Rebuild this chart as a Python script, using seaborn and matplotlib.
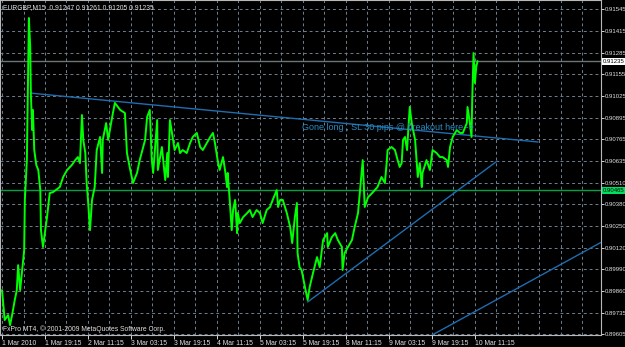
import numpy as np
import pandas as pd
import seaborn as sns
import matplotlib
matplotlib.use("Agg")
import matplotlib.pyplot as plt
import matplotlib.transforms as mtransforms
from matplotlib import font_manager

# ---------------- data ----------------
bars = [0, 4, 9, 12, 15, 19, 22, 24, 27, 30, 33, 34, 37, 40, 42, 43, 45, 46, 48, 51,
        54, 57, 58, 61, 67, 71, 76, 86, 91, 97, 104, 109, 113, 116, 119, 121, 124, 126,
        128, 131, 134, 138, 141, 146, 149, 150, 155, 158, 164, 168, 176, 183, 186, 190,
        195, 201, 205, 213, 216, 220, 223, 225, 231, 232, 238, 243, 246, 247, 250, 253,
        257, 262, 265, 269, 275, 280, 284, 290, 295, 299, 305, 310, 314, 317, 321, 324,
        329, 332, 335, 336, 339, 342, 344, 347, 350, 351, 354, 359, 365, 369, 373, 379,
        384, 388, 394, 399, 403, 409, 411, 414, 418, 424, 429, 432, 436, 439, 440, 443,
        446, 448, 451, 454, 455, 458, 463, 469, 473, 478, 484, 485, 491, 496, 500, 506,
        507, 510, 515, 521, 525, 530, 536, 537, 540, 545, 551, 555, 559, 565, 570, 573,
        574, 580, 585, 589, 592, 595, 597, 600, 603, 607, 610, 615, 618, 619, 622, 625,
        626, 632, 637, 641, 647, 652, 656, 662, 664, 667, 671, 677, 682, 686, 692, 693,
        696, 699, 700, 702, 704, 706, 708]
close = [0.89869, 0.89690, 0.89720, 0.89660, 0.89720, 0.89810, 0.89869, 0.90018, 0.89869,
         0.89989, 0.90108, 0.90407, 0.90645, 0.91493, 0.91320, 0.91033, 0.90824, 0.90944,
         0.90705, 0.90616, 0.90586, 0.90466, 0.90227, 0.90126, 0.90305, 0.90448, 0.90454,
         0.90484, 0.90544, 0.90586, 0.90616, 0.90645, 0.90663, 0.90627, 0.90914, 0.90765,
         0.90687, 0.90508, 0.90407, 0.90227, 0.90407, 0.90484, 0.90705, 0.90783, 0.90568,
         0.90765, 0.90866, 0.90765, 0.90902, 0.90986, 0.90944, 0.90926, 0.90687, 0.90604,
         0.90508, 0.90568, 0.90645, 0.90765, 0.90902, 0.90944, 0.90645, 0.90568, 0.90884,
         0.90586, 0.90723, 0.90526, 0.90687, 0.90544, 0.90884, 0.90807, 0.90705, 0.90747,
         0.90687, 0.90705, 0.90687, 0.90747, 0.90783, 0.90807, 0.90723, 0.90705, 0.90747,
         0.90783, 0.90807, 0.90747, 0.90645, 0.90586, 0.90663, 0.90586, 0.90484, 0.90568,
         0.90407, 0.90227, 0.90347, 0.90407, 0.90209, 0.90329, 0.90269, 0.90305, 0.90329,
         0.90347, 0.90305, 0.90347, 0.90329, 0.90269, 0.90347, 0.90365, 0.90407, 0.90466,
         0.90365, 0.90407, 0.90407, 0.90329, 0.90245, 0.90150, 0.90305, 0.90389, 0.90090,
         0.90006, 0.89989, 0.89947, 0.89887, 0.89827, 0.89810, 0.89887, 0.89971, 0.90066,
         0.90006, 0.90168, 0.90209, 0.90126, 0.90185, 0.90209, 0.90168, 0.90126, 0.89989,
         0.90090, 0.90126, 0.90168, 0.90245, 0.90329, 0.90604, 0.90645, 0.90365, 0.90424,
         0.90448, 0.90466, 0.90484, 0.90544, 0.90508, 0.90645, 0.90705, 0.90723, 0.90705,
         0.90645, 0.90604, 0.90627, 0.90765, 0.90783, 0.90705, 0.90962, 0.90866, 0.90765,
         0.90604, 0.90544, 0.90627, 0.90484, 0.90568, 0.90645, 0.90586, 0.90705, 0.90687,
         0.90663, 0.90663, 0.90645, 0.90604, 0.90723, 0.90783, 0.90824, 0.90807, 0.90807,
         0.90866, 0.90962, 0.90884, 0.90783, 0.91004, 0.91284, 0.91105, 0.91201, 0.91236]

x_tick_bars = [0, 64, 128, 192, 256, 320, 384, 448, 512, 576, 640, 704]
x_tick_labels = ["1 Mar 2010", "1 Mar 19:15", "2 Mar 11:15", "3 Mar 03:15", "3 Mar 19:15",
                 "4 Mar 11:15", "5 Mar 03:15", "5 Mar 19:15", "8 Mar 11:15", "9 Mar 03:15",
                 "9 Mar 19:15", "10 Mar 11:15"]
y_tick_labels = ["0.89605", "0.89735", "0.89860", "0.89990", "0.90120", "0.90250", "0.90380",
                 "0.90510", "0.90635", "0.90765", "0.90895", "0.91025", "0.91155", "0.91285",
                 "0.91415", "0.91545"]

bid_price = 0.91235
hline_price = 0.90465

# trend lines (start bar, end bar), (start price, end price)
trend_upper_x, trend_upper_y = [42, 798], [0.91045, 0.90753]
trend_low1_x, trend_low1_y = [455, 737], [0.89798, 0.90639]
trend_low2_x, trend_low2_y = [640, 900], [0.89600, 0.90172]

note_bar, note_price = 446, 0.90842
note_text = "Gone long , SL 30 pips @ breakout here ->"
title_text = "EURGBP,M15  0.91247 0.91261 0.91205 0.91235"
copyright_text = "FxPro MT4, \u00a9 2001-2009 MetaQuotes Software Corp."

# ---------------- style ----------------
sns.set_theme(style="dark")
plt.rcParams["font.family"] = ["Liberation Sans", "DejaVu Sans"]

names = {f.name for f in font_manager.fontManager.ttflist}
narrow = "Liberation Sans Narrow" if "Liberation Sans Narrow" in names else "Liberation Sans"
ylab_size = 4.7 if narrow == "Liberation Sans Narrow" else 4.3

W, H = 625, 347
fig = plt.figure(figsize=(W / 100, H / 100), dpi=100, facecolor="black")
ax = fig.add_axes([0.0 / W, (H - 335) / H, 600.5 / W, 335 / H])
ax.set_facecolor("black")

x_min, x_max = -3, 891
y_min, y_max = 0.89601, 0.916005
ax.set_xlim(x_min, x_max)
ax.set_ylim(y_min, y_max)

grid_col = "#6f7f8f"
ytick_pos = np.linspace(0.89605, 0.91545, len(y_tick_labels))
for yp in ytick_pos:
    ax.axhline(yp, color=grid_col, lw=0.7, ls=(0, (3, 3)), zorder=1)
for xb in range(0, 880, 32):
    ax.axvline(xb, color=grid_col, lw=0.7, ls=(0, (3, 3)), zorder=1)

# horizontal lines
ax.axhline(bid_price, color="#6a7676", lw=1.0, zorder=2)
ax.axhline(hline_price, color="#00a046", lw=1.0, zorder=2)

# trend lines
tl_col = "#1f6db0"
for tx, ty in [(trend_upper_x, trend_upper_y), (trend_low1_x, trend_low1_y),
               (trend_low2_x, trend_low2_y)]:
    ax.plot(tx, ty, color=tl_col, lw=1.0, zorder=3)

# price line
df = pd.DataFrame({"bar": bars, "close": close})
sns.lineplot(data=df, x="bar", y="close", ax=ax, color="#00ff00", lw=1.4,
             zorder=4, estimator=None, sort=False)

ax.text(note_bar, note_price, note_text, color="#2a8cc4", fontsize=6.5,
        va="center", ha="left", zorder=5)

# axes frame
for side, sp in ax.spines.items():
    sp.set_color("#b8b8b8")
    sp.set_linewidth(0.8)
    sp.set_visible(True)

ax.set_xlabel("")
ax.set_ylabel("")
ax.grid(False)

# x ticks
ax.set_xticks(x_tick_bars)
ax.set_xticklabels(x_tick_labels)
ax.tick_params(axis="x", colors="#d8d8d8", length=3, width=0.7, direction="out",
               labelsize=4.9, pad=0.5, bottom=True)
for lab in ax.get_xticklabels():
    lab.set_horizontalalignment("left")
    lab.set_color("#e0e0e0")

# y ticks on right
ax.yaxis.tick_right()
ax.set_yticks(ytick_pos)
ax.set_yticklabels(y_tick_labels)
ax.tick_params(axis="y", colors="#d8d8d8", length=2, width=0.7, direction="out",
               labelsize=ylab_size, pad=0.8, right=True, left=False)
for lab in ax.get_yticklabels():
    lab.set_color("#e0e0e0")
    lab.set_family([narrow, "DejaVu Sans"])

trans = mtransforms.blended_transform_factory(ax.transAxes, ax.transData)
for price, txt, fc in [(bid_price, "0.91235", "white"), (hline_price, "0.90465", "#00e060")]:
    ax.text(1.0045, price, txt, transform=trans, fontsize=ylab_size, color="black",
            family=[narrow, "DejaVu Sans"], va="center", ha="left", zorder=6,
            clip_on=False, bbox=dict(boxstyle="square,pad=0.2", fc=fc, ec="none"))

ax.text(3 / 600.5, 1 - 8 / 335, title_text, transform=ax.transAxes, fontsize=4.9,
        color="#e0e0e0", va="center", ha="left", zorder=6)
ax.text(3 / 600.5, 6 / 335, copyright_text, transform=ax.transAxes, fontsize=4.9,
        color="#e0e0e0", va="center", ha="left", zorder=6)

fig.savefig("out.png", dpi=100, facecolor="black")
